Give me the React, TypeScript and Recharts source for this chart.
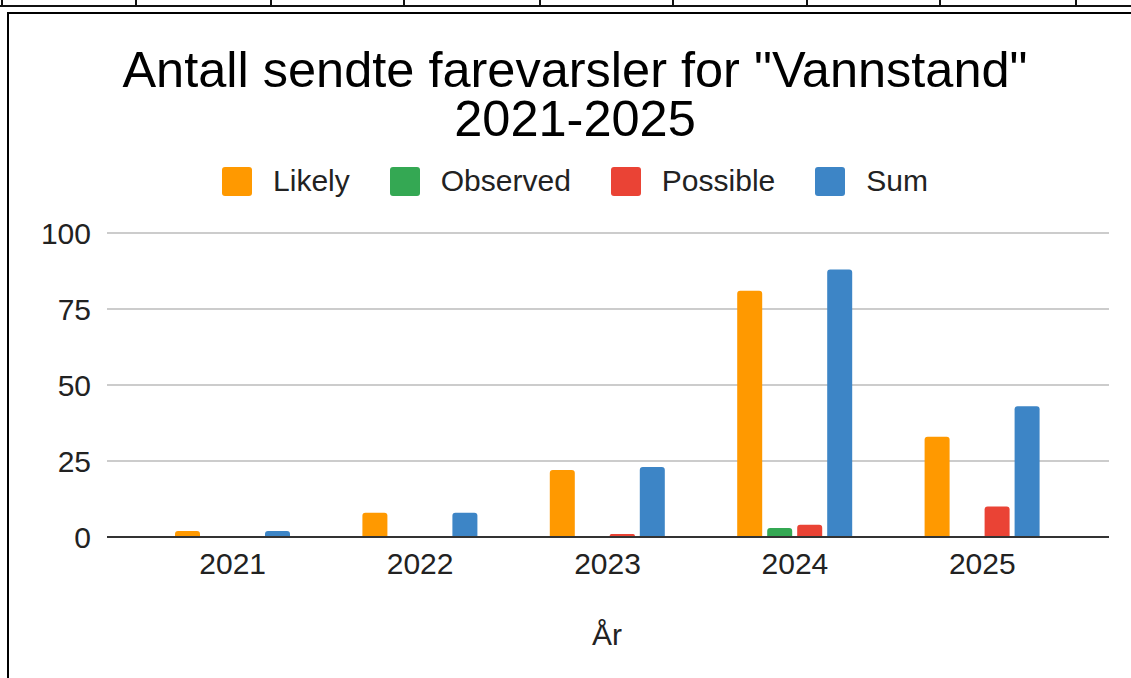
import React from "react"
import { BarChart, Bar, XAxis, YAxis, CartesianGrid } from "recharts"

// Data
const years = ["2021", "2022", "2023", "2024", "2025"]
const likely = [2, 8, 22, 81, 33]
const observed = [0, 0, 0, 3, 0]
const possible = [0, 0, 1, 4, 10]
const sum = [2, 8, 23, 88, 43]
const yTicks = [0, 25, 50, 75, 100]

const series = [
  { key: "likely", name: "Likely", color: "#ff9900" },
  { key: "observed", name: "Observed", color: "#34a853" },
  { key: "possible", name: "Possible", color: "#ea4335" },
  { key: "sum", name: "Sum", color: "#3d85c6" },
]

const data = years.map((year, i) => ({
  year,
  likely: likely[i],
  observed: observed[i],
  possible: possible[i],
  sum: sum[i],
}))

const FONT = '"Liberation Sans", Arial, sans-serif'
const tableCols = [1, 135, 270, 403, 539, 672, 806, 939, 1075]

export default function App() {
  const titleLine = {
    position: "absolute" as const,
    left: 0,
    width: 1150,
    height: 49,
    textAlign: "center" as const,
    fontSize: 50.5,
    lineHeight: "49px",
    color: "#000",
    whiteSpace: "nowrap" as const,
  }

  return (
    <div
      style={{
        position: "fixed",
        left: 0,
        top: 0,
        width: 1131,
        height: 678,
        overflow: "hidden",
        background: "#fff",
        fontFamily: FONT,
      }}
    >
      {/* spreadsheet row above the chart */}
      <div style={{ position: "absolute", left: 0, top: 5, width: 1131, height: 2, background: "#111" }} />
      {tableCols.map((x) => (
        <div key={x} style={{ position: "absolute", left: x, top: 0, width: 2, height: 7, background: "#111" }} />
      ))}
      {/* chart frame */}
      <div
        style={{
          position: "absolute",
          left: 7,
          top: 12,
          width: 1500,
          height: 1000,
          border: "2px solid #000",
        }}
      />

      {/* title */}
      <div style={{ ...titleLine, top: 45 }}>Antall sendte farevarsler for "Vannstand"</div>
      <div style={{ ...titleLine, top: 94 }}>2021-2025</div>

      {/* legend */}
      <div
        style={{
          position: "absolute",
          left: 0,
          top: 167,
          width: 1150,
          display: "flex",
          justifyContent: "center",
          gap: 40,
        }}
      >
        {series.map((s) => (
          <div key={s.key} style={{ display: "flex", alignItems: "flex-start" }}>
            <div style={{ width: 30, height: 29, borderRadius: 3, background: s.color }} />
            <span style={{ marginLeft: 21, marginTop: -1, fontSize: 30, lineHeight: "30px", color: "#222" }}>
              {s.name}
            </span>
          </div>
        ))}
      </div>

      <div style={{ position: "absolute", left: 0, top: 0 }}>
        <BarChart
          width={1131}
          height={678}
          data={data}
          margin={{ top: 233, right: 22, bottom: 81, left: 0 }}
          barSize={25}
          barGap={5}
        >
          <CartesianGrid vertical={false} stroke="#cccccc" strokeWidth={2} />
          <XAxis
            dataKey="year"
            height={60}
            padding={{ left: 32, right: 33 }}
            axisLine={{ stroke: "#333", strokeWidth: 2 }}
            tickLine={false}
            tickMargin={10}
            tick={{ fontSize: 30, fill: "#222", fontFamily: FONT }}
          />
          <YAxis
            width={107}
            domain={[0, 100]}
            ticks={yTicks}
            axisLine={false}
            tickLine={false}
            tickMargin={10}
            tick={{ fontSize: 30, fill: "#222", fontFamily: FONT }}
          />
          {series.map((s) => (
            <Bar
              key={s.key}
              dataKey={s.key}
              name={s.name}
              fill={s.color}
              radius={[3, 3, 0, 0]}
              isAnimationActive={false}
            />
          ))}
        </BarChart>
      </div>

      {/* x axis title */}
      <div
        style={{
          position: "absolute",
          left: 557,
          top: 620,
          width: 100,
          textAlign: "center",
          fontSize: 30,
          lineHeight: "30px",
          color: "#222",
        }}
      >
        År
      </div>
    </div>
  )
}
